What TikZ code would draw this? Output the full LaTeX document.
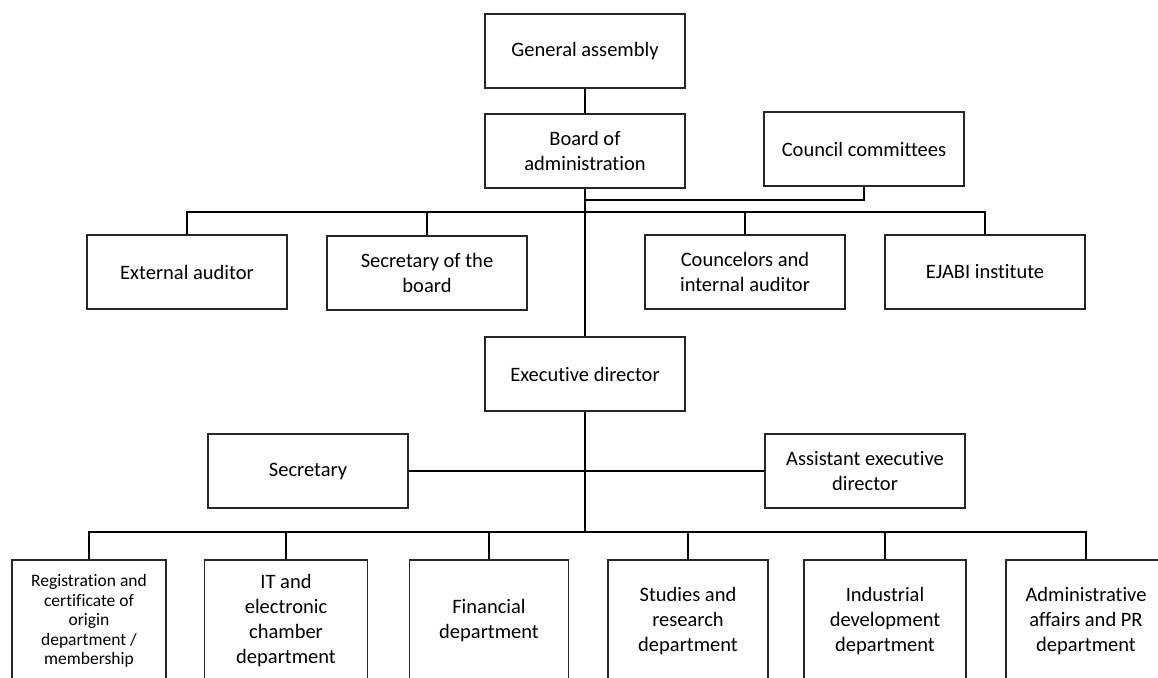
\documentclass[tikz,border=0pt]{standalone}
\usepackage{fontspec}
\setmainfont[Ligatures=NoCommon]{Carlito}
\usetikzlibrary{positioning}

\tikzset{
  unit/.style={draw=black!85, line width=1.1pt, minimum width=200pt, minimum height=74pt,
    align=center, inner sep=2pt, font=\fontsize{20.5}{25}\selectfont},
  dept/.style={unit, minimum height=122pt},
  link/.style={line width=1.5pt},
  bus/.style={line width=2pt}
}

\begin{document}
\begin{tikzpicture}[x=1pt, y=-1pt]
  \clip (0,0) rectangle (1158,677);

  % top of the chart
  \node[unit] (assembly) at (585,51) {General assembly};
  \node[unit] (board) at (585,151) {Board of\\administration};
  \node[unit] (council) at (864,149) {Council committees};

  % units under the board
  \node[unit] (extaud) at (187,272) {External auditor};
  \node[unit] (secboard) at (427,273) {Secretary of the\\board};
  \node[unit] (councelors) at (745,272) {Councelors and\\internal auditor};
  \node[unit] (ejabi) at (985,272) {EJABI institute};

  \node[unit] (execdir) at (585,374) {Executive director};
  \node[unit] (secretary) at (308,471) {Secretary};
  \node[unit] (assistant) at (865,471) {Assistant executive\\director};

  % departments
  \node[dept, minimum width=154pt, font=\fontsize{17.5}{19.5}\selectfont] (registration) at (89,621)
    {Registration and\\certificate of\\origin\\department /\\membership};
  \node[dept, minimum width=163pt] (itdept) at (286,621) {IT and\\electronic\\chamber\\department};
  \node[dept, minimum width=159pt] (financial) at (489,621) {Financial\\department};
  \node[dept, minimum width=160pt] (studies) at (688,621) {Studies and\\research\\department};
  \node[dept, minimum width=162pt] (industrial) at (885,621) {Industrial\\development\\department};
  \node[dept, minimum width=160pt] (admin) at (1086,621) {Administrative\\affairs and PR\\department};

  \coordinate (cbus) at (585,200);
  \coordinate (topbus) at (585,212);
  \coordinate (lowbus) at (585,532);

  % connectors
  \draw[link] (assembly) -- (board);
  \draw[link] (board) -- (execdir);
  \draw[bus] (cbus) -| (council.south);
  \draw[bus] (extaud.north) |- (topbus) -| (ejabi.north);
  \draw[bus] (secboard.north) -- (secboard.north |- topbus);
  \draw[bus] (councelors.north) -- (councelors.north |- topbus);
  \draw[link] (secretary) -- (assistant);
  \draw[link] (execdir) -- (lowbus);
  \draw[bus] (registration.north) |- (lowbus) -| (admin.north);
  \foreach \d in {itdept, financial, studies, industrial}
    \draw[bus] (\d.north) -- (\d.north |- lowbus);
\end{tikzpicture}
\end{document}
